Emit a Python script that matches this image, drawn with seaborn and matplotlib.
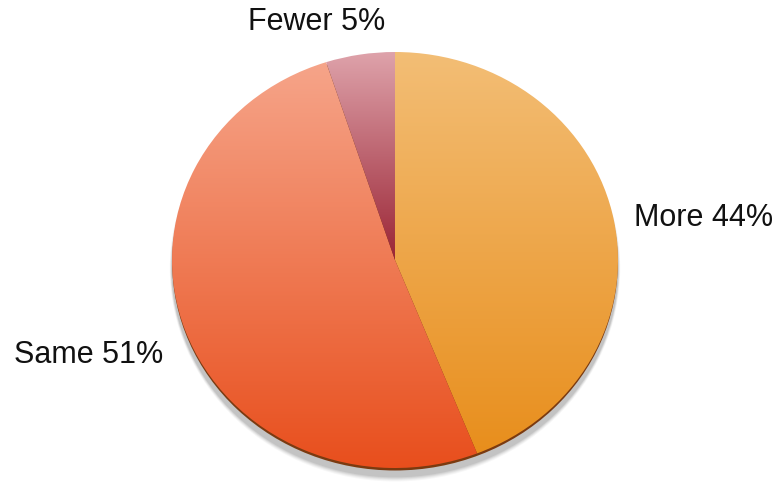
import numpy as np
import matplotlib
matplotlib.use("Agg")
import matplotlib.pyplot as plt
import seaborn as sns
from matplotlib.colors import LinearSegmentedColormap
from matplotlib.patches import Ellipse

sns.set_theme(style="white")
plt.rcParams["font.family"] = ["Liberation Sans", "DejaVu Sans"]

categories = ["More", "Same", "Fewer"]
shares = [44, 51, 5]
top_colors = ["#F3BE76", "#F6A58A", "#DFA4AC"]
bottom_colors = ["#E88E1C", "#E84E1C", "#9A2434"]

W, H = 780, 490
fig = plt.figure(figsize=(W / 100, H / 100), dpi=100)
ax = fig.add_axes([0, 0, 1, 1])

# pie geometry in pixels: centre and radii (slightly flattened ellipse)
cx, cy = 395, 260
rx, ry = 223, 208
xlim = (-cx / rx, (W - cx) / rx)
ylim = (-(H - cy) / ry, cy / ry)

# soft drop shadow beneath the pie
for i, a in enumerate([0.03, 0.04, 0.05, 0.06, 0.07]):
    grow = (5 - i) * 0.01
    ax.add_patch(Ellipse((0.0, -0.04), 2 + grow * 0.4, 2 + grow, color="#000000",
                         alpha=a, lw=0, zorder=0))
ax.add_patch(Ellipse((0.0, -0.012), 1.998, 2.0, color="#7A3A10", lw=0, zorder=1))

wedges, _ = ax.pie(shares, startangle=90, counterclock=False, radius=1.0,
                   center=(0, 0), frame=True,
                   wedgeprops=dict(linewidth=0, edgecolor="none"))

# vertical gradient fill for each slice, clipped to the wedge
for w, top, bot in zip(wedges, top_colors, bottom_colors):
    w.set_facecolor("none")
    w.set_zorder(2)
    verts = w.get_path().vertices
    y0, y1 = verts[:, 1].min(), verts[:, 1].max()
    x0, x1 = verts[:, 0].min(), verts[:, 0].max()
    cmap = LinearSegmentedColormap.from_list("g", [bot, top])
    grad = np.linspace(0, 1, 256).reshape(-1, 1)
    im = ax.imshow(grad, cmap=cmap, origin="lower", aspect="auto",
                   extent=(x0 - 0.01, x1 + 0.01, y0 - 0.01, y1 + 0.01),
                   interpolation="bicubic", zorder=2)
    im.set_clip_path(w)

ax.set_aspect("auto")
ax.set_xlim(*xlim)
ax.set_ylim(*ylim)
ax.axis("off")

labels = [f"{c} {v}%" for c, v in zip(categories, shares)]
label_pos = [(634, 218), (14, 355), (248, 22)]
for text, (px, py) in zip(labels, label_pos):
    fig.text(px / W, 1 - py / H, text, ha="left", va="center", fontsize=22,
             color="#111111")

fig.savefig("out.png", dpi=100, facecolor="white")
